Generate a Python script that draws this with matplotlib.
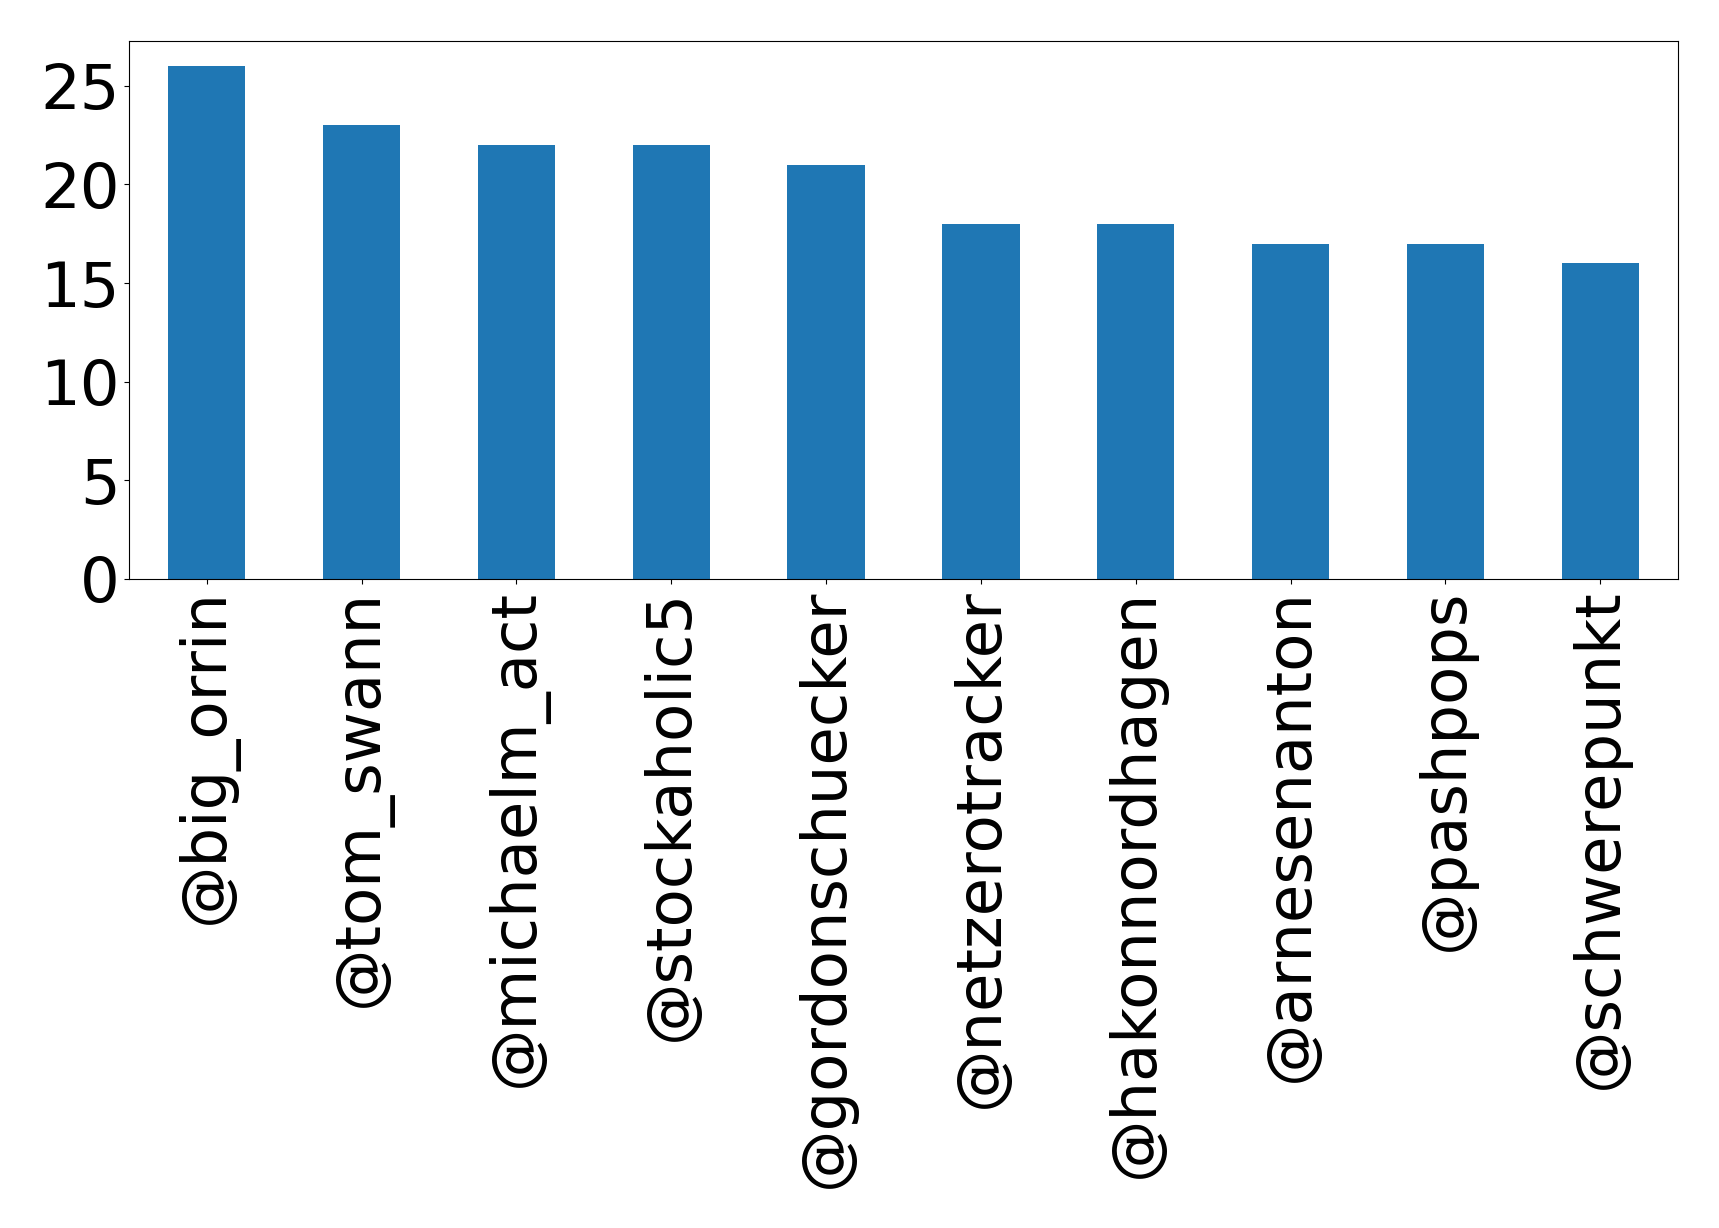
import matplotlib
matplotlib.use('Agg')
import matplotlib.pyplot as plt

# usuarios e contagens
usuarios = ['@big_orrin', '@tom_swann', '@michaelm_act', '@stockaholic5',
            '@gordonschuecker', '@netzerotracker', '@hakonnordhagen',
            '@arnesenanton', '@pashpops', '@schwerepunkt']
contagens = [26, 23, 22, 22, 21, 18, 18, 17, 17, 16]
marcas_y = [0, 5, 10, 15, 20, 25]

fig = plt.figure(figsize=(17.19, 12.28), dpi=100)
ax = fig.add_axes([0.0752, 0.5286, 0.9008, 0.4384])

x = range(len(usuarios))
ax.bar(x, contagens, width=0.5, color='#1f77b4')
ax.set_xlim(-0.5, len(usuarios) - 0.5)
ax.set_xticks(list(x))
ax.set_xticklabels(usuarios, rotation=90, fontsize=45)
ax.set_yticks(marcas_y)
ax.tick_params(axis='y', labelsize=45)

fig.savefig('out.png', dpi=100)
